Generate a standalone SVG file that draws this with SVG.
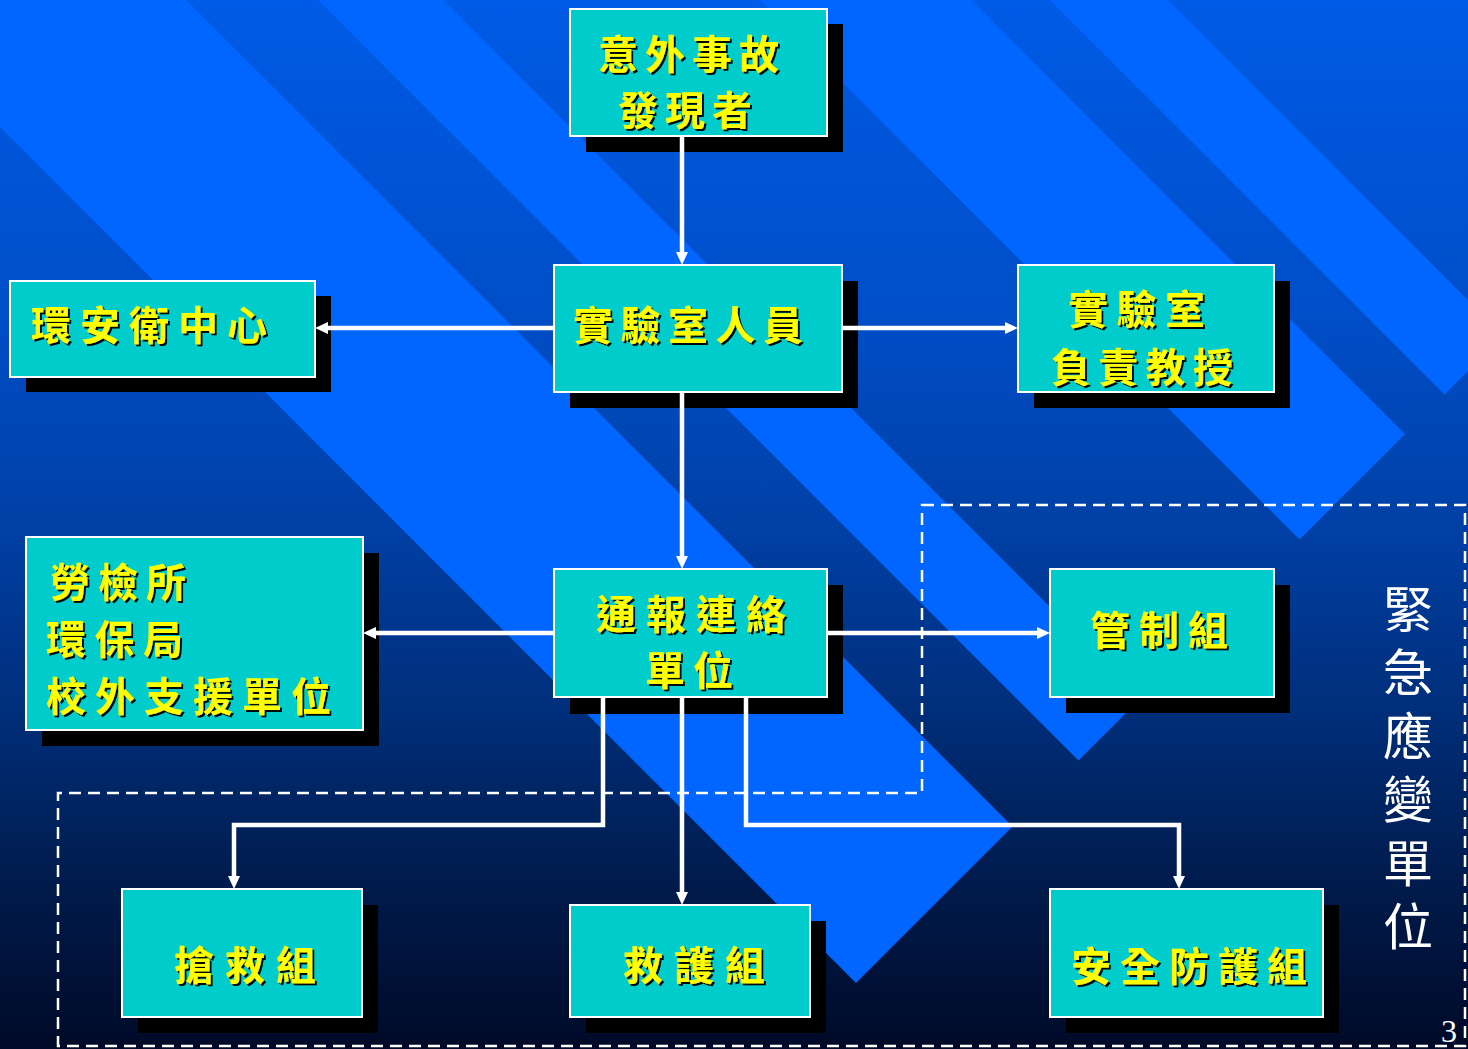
<svg xmlns="http://www.w3.org/2000/svg" width="1468" height="1049" viewBox="0 0 1468 1049">
<defs>
<linearGradient id="bg" gradientUnits="userSpaceOnUse" x1="0" y1="0" x2="0" y2="1049">
<stop offset="0" stop-color="#005be6"/>
<stop offset="0.3" stop-color="#004ec8"/>
<stop offset="0.5" stop-color="#0040a6"/>
<stop offset="0.7" stop-color="#002c74"/>
<stop offset="0.85" stop-color="#001a4a"/>
<stop offset="1" stop-color="#000a28"/>
</linearGradient>
<filter id="ts" x="-5%" y="-5%" width="115%" height="125%">
<feDropShadow dx="2" dy="2" stdDeviation="0.4" flood-color="#000" flood-opacity="0.95"/>
</filter>
<marker id="ah" markerUnits="userSpaceOnUse" markerWidth="14" markerHeight="12" refX="0" refY="6" orient="auto">
<path d="M0,0 L13,6 L0,12 z" fill="#fff"/>
</marker>
<style>
.box{fill:#00cccc;stroke:#fff;stroke-width:2}
.sh{fill:#000}
.t{font-family:"Noto Sans CJK TC","Noto Sans CJK SC",sans-serif;font-size:40px;font-weight:700;fill:#ffff00;dominant-baseline:central;filter:url(#ts)}
.c{fill:none;stroke:#fff;stroke-width:4.5;marker-end:url(#ah)}
.dash{fill:none;stroke:#fff;stroke-width:2.5;stroke-dasharray:12 7}
.st{fill:#0066ff}
</style>
</defs>
<g id="background">
<rect x="0" y="0" width="1468" height="1049" fill="url(#bg)"/>
<polygon class="st" points="-627,-500 856,983 1012.5,826.5 -314,-500"/>
<polygon class="st" points="-182,-500 1078.5,760.5 1141,698 -57,-500"/>
<polygon class="st" points="260,-500 1299.5,539.5 1405,434 471,-500"/>
<polygon class="st" points="550,-500 1444.5,394.5 1503.5,335.5 668,-500"/>
</g>
<g id="region">
<polygon class="dash" points="922,505 1465,505 1465,1046 58,1046 58,793 922,793"/>
<text x="1408" y="584" writing-mode="vertical-rl" font-family="'Noto Sans CJK TC',sans-serif" font-size="50" letter-spacing="13.4" fill="#fff">緊急應變單位</text>
<text x="1441" y="1042" font-family="'Liberation Serif',serif" font-size="32" fill="#fff">3</text>
</g>
<g id="n1">
<rect class="sh" x="586" y="24" width="257" height="128"/>
<rect class="box" x="570" y="9" width="257" height="127"/>
<text class="t" x="598" y="52" letter-spacing="7">意外事故</text>
<text class="t" x="618" y="108" letter-spacing="7">發現者</text>
</g>
<g id="n2">
<rect class="sh" x="570" y="281" width="288" height="127"/>
<rect class="box" x="554" y="265" width="288" height="127"/>
<text class="t" x="573" y="323" letter-spacing="7.5">實驗室人員</text>
</g>
<g id="n3">
<rect class="sh" x="26" y="296" width="305" height="96"/>
<rect class="box" x="10" y="281" width="305" height="96"/>
<text class="t" x="31" y="323" letter-spacing="9">環安衛中心</text>
</g>
<g id="n4">
<rect class="sh" x="1034" y="281" width="256" height="127"/>
<rect class="box" x="1018" y="265" width="256" height="127"/>
<text class="t" x="1068" y="307" letter-spacing="8.5">實驗室</text>
<text class="t" x="1051" y="365" letter-spacing="7.3">負責教授</text>
</g>
<g id="n5">
<rect class="sh" x="42" y="553" width="337" height="193"/>
<rect class="box" x="26" y="537" width="337" height="193"/>
<text class="t" x="50" y="580" letter-spacing="8">勞檢所</text>
<text class="t" x="46" y="637" letter-spacing="8.5">環保局</text>
<text class="t" x="46" y="694" letter-spacing="9">校外支援單位</text>
</g>
<g id="n6">
<rect class="sh" x="570" y="585" width="273" height="129"/>
<rect class="box" x="554" y="569" width="273" height="128"/>
<text class="t" x="596" y="612" letter-spacing="10">通報連絡</text>
<text class="t" x="645" y="668" letter-spacing="8">單位</text>
</g>
<g id="n7">
<rect class="sh" x="1066" y="585" width="224" height="128"/>
<rect class="box" x="1050" y="569" width="224" height="128"/>
<text class="t" x="1090" y="628" letter-spacing="9">管制組</text>
</g>
<g id="n8">
<rect class="sh" x="138" y="905" width="240" height="128"/>
<rect class="box" x="122" y="889" width="240" height="128"/>
<text class="t" x="174" y="963" letter-spacing="11">搶救組</text>
</g>
<g id="n9">
<rect class="sh" x="586" y="921" width="240" height="112"/>
<rect class="box" x="570" y="905" width="240" height="112"/>
<text class="t" x="623" y="963" letter-spacing="11">救護組</text>
</g>
<g id="n10">
<rect class="sh" x="1066" y="905" width="273" height="128"/>
<rect class="box" x="1050" y="889" width="273" height="128"/>
<text class="t" x="1071" y="964" letter-spacing="9">安全防護組</text>
</g>
<g id="connectors">
<path class="c" d="M682,137 V252"/>
<path class="c" d="M553,328 H328"/>
<path class="c" d="M843,328 H1005"/>
<path class="c" d="M682,393 V556"/>
<path class="c" d="M553,633 H376"/>
<path class="c" d="M828,633 H1037"/>
<path class="c" d="M603,698 V825 H234 V876"/>
<path class="c" d="M682,698 V892"/>
<path class="c" d="M746,698 V825 H1179 V876"/>
</g>
</svg>
